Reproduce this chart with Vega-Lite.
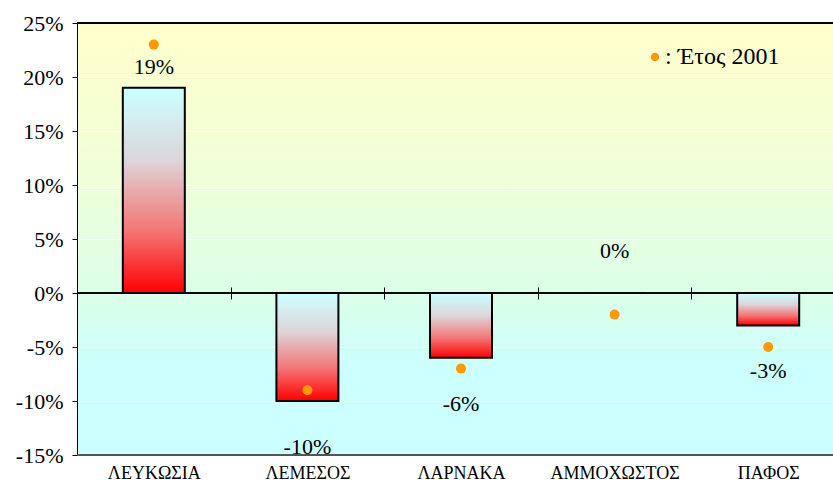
{
  "$schema": "https://vega.github.io/schema/vega-lite/v6.json",
  "autosize": {"type": "none"},
  "padding": {"left": 77, "top": 23, "right": 0, "bottom": 31},
  "width": 756,
  "height": 432,
  "background": "#ffffff",
  "view": {
    "stroke": null,
    "fill": {
      "gradient": "linear", "x1": 0, "y1": 0, "x2": 0, "y2": 1,
      "stops": [
        {"offset": 0, "color": "#FFFFCC"},
        {"offset": 0.35, "color": "#F0FFD8"},
        {"offset": 0.62, "color": "#DCFFE8"},
        {"offset": 0.8, "color": "#CCFFFF"},
        {"offset": 1, "color": "#CCFFFF"}
      ]
    }
  },
  "config": {
    "locale": {"number": {"decimal": ".", "thousands": ",", "grouping": [3], "currency": ["$", ""], "minus": "-"}},
    "font": "Liberation Serif"
  },
  "data": {
    "values": [
      {"region": "ΛΕΥΚΩΣΙΑ", "value": 0.19, "y2001": 0.23, "series": "Έτος 2001"},
      {"region": "ΛΕΜΕΣΟΣ", "value": -0.10, "y2001": -0.09, "series": "Έτος 2001"},
      {"region": "ΛΑΡΝΑΚΑ", "value": -0.06, "y2001": -0.07, "series": "Έτος 2001"},
      {"region": "ΑΜΜΟΧΩΣΤΟΣ", "value": 0.0, "y2001": -0.02, "series": "Έτος 2001"},
      {"region": "ΠΑΦΟΣ", "value": -0.03, "y2001": -0.05, "series": "Έτος 2001"}
    ]
  },
  "encoding": {
    "x": {
      "field": "region", "type": "nominal", "sort": null,
      "scale": {"range": [0, 768], "paddingInner": 0, "paddingOuter": 0},
      "axis": {
        "title": null, "orient": "bottom", "offset": -168, "domain": false,
        "tickBand": "extent", "tickSize": 12, "tickColor": "#000", "tickWidth": 1,
        "labelPadding": 165, "labelFont": "Liberation Serif", "labelFontSize": 18,
        "labelColor": "#000", "labelAngle": 0, "grid": false
      }
    }
  },
  "layer": [
    {
      "mark": {"type": "rule", "color": "#000", "strokeWidth": 1},
      "encoding": {"x": null, "y": {"datum": 0, "type": "quantitative",
        "scale": {"domain": [-0.15, 0.25], "nice": false, "zero": false},
        "axis": {
          "title": null, "values": [-0.15, -0.1, -0.05, 0, 0.05, 0.1, 0.15, 0.2, 0.25],
          "format": ".0%", "grid": true, "gridColor": "#ffffff", "gridWidth": 1,
          "domainColor": "#000", "domainWidth": 1, "tickColor": "#000", "tickSize": 5,
          "labelFont": "Liberation Serif", "labelFontSize": 22, "labelColor": "#000", "labelPadding": 9
        }}}
    },
    {
      "mark": {"type": "rule", "color": "#000", "strokeWidth": 1.5},
      "encoding": {"x": null, "y": {"datum": 0.25, "type": "quantitative"}}
    },
    {
      "mark": {"type": "rule", "color": "#555", "strokeWidth": 2},
      "encoding": {"x": null, "y": {"datum": -0.15, "type": "quantitative"}}
    },
    {
      "mark": {
        "type": "bar", "width": 62, "stroke": "#000", "strokeWidth": 2,
        "fill": {
          "gradient": "linear", "x1": 0, "y1": 0, "x2": 0, "y2": 1,
          "stops": [
            {"offset": 0, "color": "#CCFFFF"},
            {"offset": 0.35, "color": "#DCD6DA"},
            {"offset": 0.7, "color": "#F47474"},
            {"offset": 1, "color": "#FF0000"}
          ]
        }
      },
      "encoding": {
        "y": {"field": "value", "type": "quantitative"},
        "y2": {"datum": 0}
      }
    },
    {
      "mark": {"type": "point", "shape": "circle", "filled": true, "size": 100, "opacity": 1},
      "encoding": {
        "y": {"field": "y2001", "type": "quantitative"},
        "color": {
          "field": "series", "type": "nominal",
          "scale": {"range": ["#FF9900"]},
          "legend": {
            "title": null, "orient": "none", "legendX": 566, "legendY": 22,
            "labelExpr": "': ' + datum.label", "labelFont": "Liberation Serif",
            "labelFontSize": 24, "labelColor": "#000", "labelOffset": -2,
            "symbolType": "circle", "symbolSize": 70, "symbolStrokeWidth": 0, "padding": 0
          }
        }
      }
    },
    {
      "transform": [{"filter": "datum.value > 0"}],
      "mark": {"type": "text", "dy": -21, "fontSize": 22, "font": "Liberation Serif", "color": "#000"},
      "encoding": {"y": {"field": "value", "type": "quantitative"}, "text": {"field": "value", "type": "quantitative", "format": ".0%"}}
    },
    {
      "transform": [{"filter": "datum.value == 0"}],
      "mark": {"type": "text", "dy": -42, "fontSize": 22, "font": "Liberation Serif", "color": "#000"},
      "encoding": {"y": {"field": "value", "type": "quantitative"}, "text": {"field": "value", "type": "quantitative", "format": ".0%"}}
    },
    {
      "transform": [{"filter": "datum.value < 0"}],
      "mark": {"type": "text", "dy": 46, "fontSize": 22, "font": "Liberation Serif", "color": "#000"},
      "encoding": {"y": {"field": "value", "type": "quantitative"}, "text": {"field": "value", "type": "quantitative", "format": ".0%"}}
    }
  ]
}
